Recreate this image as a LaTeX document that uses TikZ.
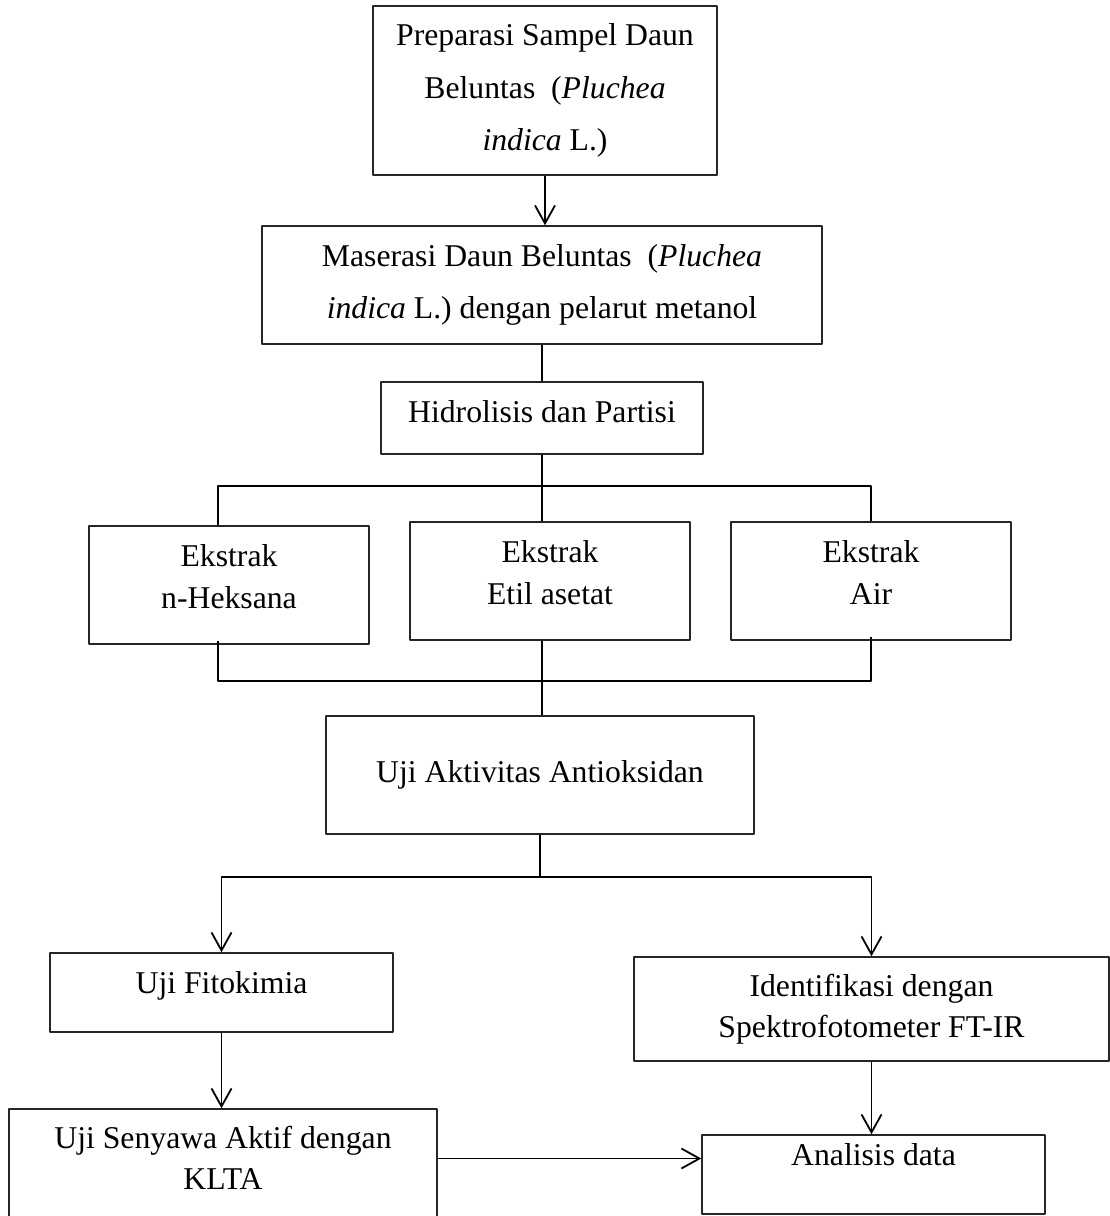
\documentclass[tikz,border=0pt]{standalone}
\usepackage{fontspec}
\setmainfont{Liberation Serif}
\usetikzlibrary{arrows.meta}
\tikzset{
  kotak/.style={draw=black!85, line width=1.5pt, align=center, inner sep=0pt,
    font=\fontsize{31.7}{41.5}\selectfont},
  spasi/.style={font=\fontsize{31.7}{52.5}\selectfont},
  garis/.style={line width=1.8pt}
}
\begin{document}
\begin{tikzpicture}[x=1pt, y=-1pt, line join=round, >={Straight Barb[length=18pt,width=20pt]}]
\fill[white] (0,0) rectangle (1110,1216);
\useasboundingbox (0,0) rectangle (1110,1216);
% tahap awal
\node[kotak, spasi, minimum width=344pt, minimum height=169pt] (prep) at (545,90.5)
  {Preparasi Sampel Daun\\Beluntas\ \ (\textit{Pluchea}\\\textit{indica} L.)};
\node[kotak, spasi, minimum width=560pt, minimum height=118pt] (mas) at (542,285)
  {Maserasi Daun Beluntas\ \ (\textit{Pluchea}\\\textit{indica} L.) dengan pelarut metanol};
\node[kotak, minimum width=322pt, minimum height=72pt, text depth=14pt] (hidro) at (542,418)
  {Hidrolisis dan Partisi};
% ekstrak
\node[kotak, minimum width=280pt, minimum height=118pt, text depth=17pt] (ekL) at (229,585)
  {Ekstrak\\n-Heksana};
\node[kotak, minimum width=280pt, minimum height=118pt, text depth=17pt] (ekM) at (550,581)
  {Ekstrak\\Etil asetat};
\node[kotak, minimum width=280pt, minimum height=118pt, text depth=17pt] (ekR) at (871,581)
  {Ekstrak\\Air};
% uji
\node[kotak, minimum width=428pt, minimum height=118pt] (akt) at (540,775)
  {Uji Aktivitas Antioksidan};
\node[kotak, minimum width=343pt, minimum height=79pt, text depth=21pt] (fito) at (221.5,992.5)
  {Uji Fitokimia};
\node[kotak, minimum width=475pt, minimum height=104pt] (ident) at (871.5,1009)
  {Identifikasi dengan\\Spektrofotometer FT-IR};
\node[kotak, minimum width=428pt, minimum height=113pt, text depth=15pt] (klta) at (223,1165.5)
  {Uji Senyawa Aktif dengan\\KLTA};
\node[kotak, minimum width=343pt, minimum height=79pt, text depth=40pt] (anal) at (873.5,1174.5)
  {Analisis data};
% titik cabang
\coordinate (bus1) at (542,486);
\coordinate (bus1L) at (218,486);
\coordinate (bus1R) at (871,486);
\coordinate (bus2) at (542,681);
\coordinate (bus2L) at (218,681);
\coordinate (bus2R) at (871,681);
% penghubung
\draw[garis,->] (prep.south) -- (prep.south |- mas.north);
\draw[garis] (mas.south) -- (hidro.north);
\draw[garis] (hidro.south) -- (bus1);
\draw[garis] (bus1L |- ekL.north) -- (bus1L) -- (bus1R) -- (ekR.north);
\draw[garis] (bus1) -- (bus1 |- ekM.north);
\draw[garis] ([yshift=4pt]bus2L |- ekL.south) -- (bus2L) -- (bus2R) -- ([yshift=4pt]ekR.south);
\draw[garis] (bus2 |- ekM.south) -- (bus2) -- (bus2 |- akt.north);
\draw[garis] (akt.south) -- ++(0,42) coordinate (bus3);
\draw[garis,->] (bus3) -| (fito.north);
\draw[garis,->] (bus3) -| (ident.north);
\draw[garis,->] (fito.south) -- (fito.south |- klta.north);
\draw[garis,->] (ident.south) -- (ident.south |- anal.north);
\draw[garis,->] ([yshift=7pt]klta.east) -- ([yshift=7pt]klta.east -| anal.west);
\end{tikzpicture}
\end{document}
